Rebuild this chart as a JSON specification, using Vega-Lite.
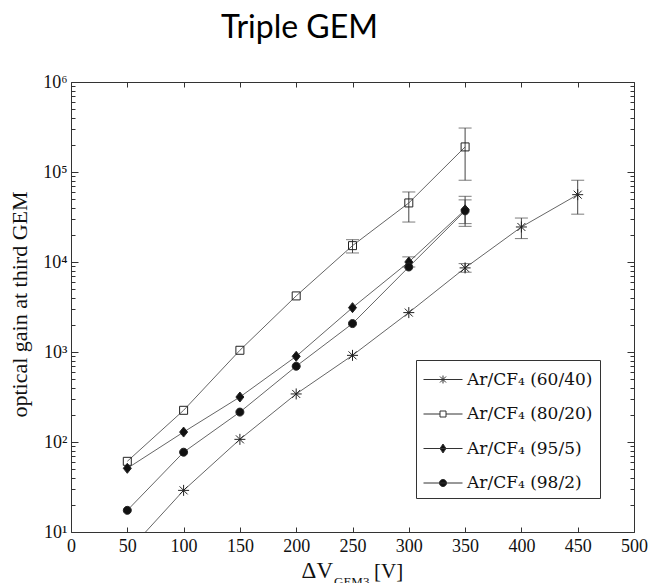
{
  "$schema": "https://vega.github.io/schema/vega-lite/v6.json",
  "width": 563,
  "height": 450,
  "autosize": {"type": "none"},
  "padding": {"left": 71, "top": 82, "right": 18, "bottom": 51},
  "title": {"text": "Triple GEM", "font": "Lato", "fontSize": 32, "fontWeight": "normal", "color": "#000", "anchor": "middle", "dx": -53, "offset": 3, "baseline": "alphabetic"},
  "config": {
    "font": "Liberation Serif",
    "view": {"stroke": "#333", "strokeWidth": 1},
    "axis": {"grid": false, "domain": false, "tickColor": "#333", "tickWidth": 1, "labelColor": "#111", "labelFont": "Liberation Serif", "labelFontSize": 18, "labelFlush": false, "labelOverlap": false, "titleFont": "Liberation Serif", "titleFontWeight": "normal", "titleColor": "#111"}
  },
  "data": {"values": [
    {"s": "Ar/CF₄ (60/40)", "v": 50, "g": 6},
    {"s": "Ar/CF₄ (60/40)", "v": 100, "g": 29},
    {"s": "Ar/CF₄ (60/40)", "v": 150, "g": 107},
    {"s": "Ar/CF₄ (60/40)", "v": 200, "g": 342},
    {"s": "Ar/CF₄ (60/40)", "v": 250, "g": 918},
    {"s": "Ar/CF₄ (60/40)", "v": 300, "g": 2740},
    {"s": "Ar/CF₄ (60/40)", "v": 350, "g": 8600, "lo": 7700, "hi": 9600},
    {"s": "Ar/CF₄ (60/40)", "v": 400, "g": 24500, "lo": 18200, "hi": 30800},
    {"s": "Ar/CF₄ (60/40)", "v": 450, "g": 56000, "lo": 34000, "hi": 81000},
    {"s": "Ar/CF₄ (80/20)", "v": 50, "g": 61},
    {"s": "Ar/CF₄ (80/20)", "v": 100, "g": 225},
    {"s": "Ar/CF₄ (80/20)", "v": 150, "g": 1045},
    {"s": "Ar/CF₄ (80/20)", "v": 200, "g": 4200},
    {"s": "Ar/CF₄ (80/20)", "v": 250, "g": 15200, "lo": 12600, "hi": 17700},
    {"s": "Ar/CF₄ (80/20)", "v": 300, "g": 45300, "lo": 27800, "hi": 60000},
    {"s": "Ar/CF₄ (80/20)", "v": 350, "g": 190000, "lo": 81000, "hi": 308000},
    {"s": "Ar/CF₄ (95/5)", "v": 50, "g": 51},
    {"s": "Ar/CF₄ (95/5)", "v": 100, "g": 129},
    {"s": "Ar/CF₄ (95/5)", "v": 150, "g": 316},
    {"s": "Ar/CF₄ (95/5)", "v": 200, "g": 895},
    {"s": "Ar/CF₄ (95/5)", "v": 250, "g": 3110},
    {"s": "Ar/CF₄ (95/5)", "v": 300, "g": 10000, "lo": 8800, "hi": 11400},
    {"s": "Ar/CF₄ (95/5)", "v": 350, "g": 38000, "lo": 24900, "hi": 53700},
    {"s": "Ar/CF₄ (98/2)", "v": 50, "g": 17.4},
    {"s": "Ar/CF₄ (98/2)", "v": 100, "g": 77},
    {"s": "Ar/CF₄ (98/2)", "v": 150, "g": 215},
    {"s": "Ar/CF₄ (98/2)", "v": 200, "g": 695},
    {"s": "Ar/CF₄ (98/2)", "v": 250, "g": 2070},
    {"s": "Ar/CF₄ (98/2)", "v": 300, "g": 8800},
    {"s": "Ar/CF₄ (98/2)", "v": 350, "g": 37000, "lo": 26700, "hi": 49000}
  ]},
  "layer": [
    {
      "mark": {"type": "line", "color": "#666", "strokeWidth": 1, "clip": true},
      "encoding": {
        "x": {"field": "v", "type": "quantitative", "scale": {"domain": [0, 500], "nice": false},
              "axis": {"orient": "bottom", "values": [0, 50, 100, 150, 200, 250, 300, 350, 400, 450, 500], "format": "d", "tickSize": -5, "labelPadding": 10, "title": null}},
        "y": {"field": "g", "type": "quantitative", "scale": {"type": "log", "domain": [10, 1000000], "nice": false},
              "axis": {"orient": "left", "title": "optical gain at third GEM", "titleFontSize": 22, "titleX": -52, "titleY": 222, "titleAngle": 270, "titleAlign": "center", "titleBaseline": "middle",
                       "values": [10,20,30,40,50,60,70,80,90,100,200,300,400,500,600,700,800,900,1000,2000,3000,4000,5000,6000,7000,8000,9000,10000,20000,30000,40000,50000,60000,70000,80000,90000,100000,200000,300000,400000,500000,600000,700000,800000,900000,1000000],
                       "labelExpr": "abs(log(datum.value)/LN10 - round(log(datum.value)/LN10)) < 0.001 ? '10' + ['⁰','¹','²','³','⁴','⁵','⁶'][round(log(datum.value)/LN10)] : ''",
                       "tickSize": {"condition": {"test": "abs(log(datum.value)/LN10 - round(log(datum.value)/LN10)) < 0.001", "value": -7}, "value": -4},
                       "labelPadding": 11}},
        "detail": {"field": "s", "type": "nominal"}
      }
    },
    {
      "transform": [{"filter": "datum.lo != null"}],
      "mark": {"type": "errorbar", "ticks": {"size": 13, "color": "#444"}, "rule": {"color": "#444"}},
      "encoding": {
        "x": {"field": "v", "type": "quantitative", "axis": null},
        "y": {"field": "lo", "type": "quantitative", "axis": null},
        "y2": {"field": "hi"}
      }
    },
    {
      "mark": {"type": "point", "size": 100, "strokeWidth": 1, "stroke": "#222", "opacity": 1, "clip": true},
      "encoding": {
        "x": {"field": "v", "type": "quantitative",
              "axis": {"orient": "top", "values": [0, 50, 100, 150, 200, 250, 300, 350, 400, 450, 500], "labels": false, "tickSize": -5, "title": null}},
        "y": {"field": "g", "type": "quantitative",
              "axis": {"orient": "right", "labels": false, "title": null,
                       "values": [10,20,30,40,50,60,70,80,90,100,200,300,400,500,600,700,800,900,1000,2000,3000,4000,5000,6000,7000,8000,9000,10000,20000,30000,40000,50000,60000,70000,80000,90000,100000,200000,300000,400000,500000,600000,700000,800000,900000,1000000],
                       "tickSize": {"condition": {"test": "abs(log(datum.value)/LN10 - round(log(datum.value)/LN10)) < 0.001", "value": -7}, "value": -4}}},
        "shape": {"field": "s", "type": "nominal", "legend": null,
                  "scale": {"domain": ["Ar/CF₄ (60/40)", "Ar/CF₄ (80/20)", "Ar/CF₄ (95/5)", "Ar/CF₄ (98/2)"],
                            "range": ["M-1.1,0H1.1M0,-1.1V1.1M-0.8,-0.8L0.8,0.8M-0.8,0.8L0.8,-0.8", "M-0.8,-0.8H0.8V0.8H-0.8Z", "M0,-1L0.8,0L0,1L-0.8,0Z", "M0.8,0A0.8,0.8,0,1,1,-0.8,0A0.8,0.8,0,1,1,0.8,0Z"]}},
        "fill": {"field": "s", "type": "nominal", "legend": null,
                 "scale": {"domain": ["Ar/CF₄ (60/40)", "Ar/CF₄ (80/20)", "Ar/CF₄ (95/5)", "Ar/CF₄ (98/2)"], "range": ["transparent", "transparent", "#111", "#111"]}}
      }
    },
    {
      "transform": [{"filter": "false"}],
      "mark": {"type": "point", "size": 576, "strokeWidth": 1, "stroke": "#333", "opacity": 1},
      "encoding": {
        "shape": {"field": "s", "type": "nominal",
                  "scale": {"domain": ["Ar/CF₄ (60/40)", "Ar/CF₄ (80/20)", "Ar/CF₄ (95/5)", "Ar/CF₄ (98/2)"],
                            "range": ["M-1,0H2.25M0.625,-0.33V0.33M0.375,-0.25L0.875,0.25M0.375,0.25L0.875,-0.25", "M-1,0H0.375M0.875,0H2.25M0.375,-0.25H0.875V0.25H0.375Z", "M-1,0H2.25M0.625,-0.375L0.875,0L0.625,0.375L0.375,0Z", "M-1,0H2.25M0.925,0A0.3,0.3,0,1,1,0.325,0A0.3,0.3,0,1,1,0.925,0Z"]},
                  "legend": {"orient": "none", "legendX": 345, "legendY": 278, "title": null, "direction": "vertical",
                             "strokeColor": "#333", "fillColor": "white", "padding": 7, "rowPadding": 13.5,
                             "labelFont": "DejaVu Serif", "labelFontSize": 17, "labelColor": "#111", "labelOffset": 19, "labelLimit": 300,
                             "symbolSize": 576, "symbolStrokeWidth": 1, "symbolStrokeColor": "#333",
                             "encoding": {"symbols": {"stroke": {"value": "#333"}, "strokeWidth": {"value": 1}, "size": {"value": 576}}}}},
        "fill": {"field": "s", "type": "nominal",
                 "scale": {"domain": ["Ar/CF₄ (60/40)", "Ar/CF₄ (80/20)", "Ar/CF₄ (95/5)", "Ar/CF₄ (98/2)"], "range": ["transparent", "transparent", "#111", "#111"]},
                 "legend": {"orient": "none", "legendX": 345, "legendY": 278, "title": null, "direction": "vertical",
                             "strokeColor": "#333", "fillColor": "white", "padding": 7, "rowPadding": 13.5,
                             "labelFont": "DejaVu Serif", "labelFontSize": 17, "labelColor": "#111", "labelOffset": 19, "labelLimit": 300,
                             "symbolSize": 576, "symbolStrokeWidth": 1, "symbolStrokeColor": "#333",
                             "encoding": {"symbols": {"stroke": {"value": "#333"}, "strokeWidth": {"value": 1}, "size": {"value": 576}}}}}
      }
    },
    {
      "data": {"values": [{}]},
      "mark": {"type": "text", "text": "ΔV", "align": "right", "baseline": "alphabetic", "font": "Liberation Serif", "fontSize": 23, "color": "#111"},
      "encoding": {"x": {"datum": 232.7, "type": "quantitative", "axis": null}, "y": {"datum": 3.08, "type": "quantitative", "axis": null}}
    },
    {
      "data": {"values": [{}]},
      "mark": {"type": "text", "text": "GEM3", "align": "left", "baseline": "alphabetic", "font": "Liberation Serif", "fontSize": 13, "color": "#111"},
      "encoding": {"x": {"datum": 233.6, "type": "quantitative", "axis": null}, "y": {"datum": 2.51, "type": "quantitative", "axis": null}}
    },
    {
      "data": {"values": [{}]},
      "mark": {"type": "text", "text": "[V]", "align": "left", "baseline": "alphabetic", "font": "Liberation Serif", "fontSize": 21, "color": "#111"},
      "encoding": {"x": {"datum": 269.1, "type": "quantitative", "axis": null}, "y": {"datum": 3.08, "type": "quantitative", "axis": null}}
    }
  ],
  "resolve": {"axis": {"x": "independent", "y": "independent"}, "scale": {"shape": "independent", "fill": "independent"}}
}
